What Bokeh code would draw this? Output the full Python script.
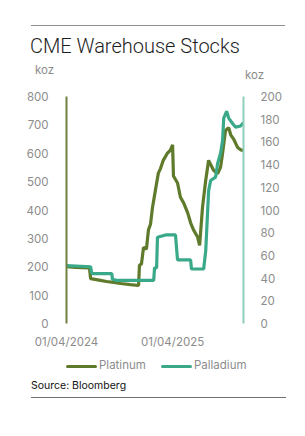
from datetime import datetime
from bokeh.plotting import figure
from bokeh.layouts import column
from bokeh.models import (Range1d, LinearAxis, FixedTicker, DatetimeTickFormatter,
                          ColumnDataSource, Div)
from bokeh.embed import file_html
from bokeh.resources import INLINE

platinum_dates = ["2024-04-01", "2024-05-02", "2024-06-19", "2024-06-23", "2024-07-27", "2024-08-17",
                  "2024-09-10", "2024-10-04", "2024-11-07", "2024-12-05", "2024-12-08", "2024-12-15",
                  "2024-12-22", "2025-01-01", "2025-01-08", "2025-01-15", "2025-01-22", "2025-02-01",
                  "2025-02-11", "2025-02-18", "2025-02-28", "2025-03-14", "2025-03-24", "2025-04-01",
                  "2025-04-04", "2025-04-18", "2025-04-28", "2025-05-09", "2025-05-23", "2025-06-02",
                  "2025-06-12", "2025-06-26", "2025-07-03", "2025-07-13", "2025-07-24", "2025-08-03",
                  "2025-08-10", "2025-08-20", "2025-09-03", "2025-09-13", "2025-09-20", "2025-09-30",
                  "2025-10-11", "2025-10-18", "2025-10-28", "2025-11-11", "2025-11-21", "2025-12-01"]
platinum_koz = [200, 198, 196, 158, 152, 148, 145, 141, 137, 134, 205, 210,
                268, 262, 330, 350, 410, 470, 530, 545, 575, 600, 610, 630,
                520, 495, 445, 425, 390, 355, 330, 305, 275, 410, 505, 575,
                560, 540, 528, 550, 600, 680, 690, 665, 650, 620, 612, 610]

palladium_dates = ["2024-04-01", "2024-06-23", "2024-06-27", "2024-09-04", "2024-09-06", "2024-09-20",
                   "2025-01-26", "2025-01-29", "2025-02-05", "2025-02-08", "2025-03-08", "2025-04-11",
                   "2025-04-18", "2025-06-02", "2025-06-05", "2025-07-17", "2025-07-24", "2025-08-03",
                   "2025-08-10", "2025-08-27", "2025-09-03", "2025-09-13", "2025-09-20", "2025-09-24",
                   "2025-10-04", "2025-10-11", "2025-10-25", "2025-11-04", "2025-11-21", "2025-12-01"]
palladium_koz = [51, 50, 44, 44, 39, 38,
                 38, 49, 49, 76, 78, 78,
                 56, 56, 48, 48, 64, 117,
                 126, 129, 141, 150, 161, 181,
                 187, 181, 176, 173, 174, 177]

left_ticks = [0, 100, 200, 300, 400, 500, 600, 700, 800]
right_ticks = [0, 20, 40, 60, 80, 100, 120, 140, 160, 180, 200]
x_tick_dates = ["2024-04-01", "2025-04-01"]

title_text = "CME Warehouse Stocks"
unit_text = "koz"
series_names = ["Platinum", "Palladium"]
source_text = "Source: Bloomberg"

OLIVE = "#5e7a2a"
TEAL = "#3aa98a"
GREY = "#8c8c8c"
FONT = "Inter"
W = 305
HEAD_H = 84
MAIN_H = 266
FOOT_H = 436 - HEAD_H - MAIN_H


def to_dt(s):
    return datetime.strptime(s, "%Y-%m-%d")


def abs_text(txt, left, top, size, color, family=FONT, weight=400):
    return (f'<div style="position:absolute;left:{left}px;top:{top}px;font-family:{family};'
            f'font-weight:{weight};font-size:{size}px;line-height:1;color:{color};'
            f'white-space:nowrap;">{txt}</div>')


def rule(left, top, width, color, h=1, radius=0):
    return (f'<div style="position:absolute;left:{left}px;top:{top}px;width:{width}px;'
            f'height:{h}px;background:{color};border-radius:{radius}px;"></div>')


# ---------- header ----------
head_html = (f'<div style="position:relative;width:{W}px;height:{HEAD_H}px;">'
             + rule(31, 25, 254, "#8f8f8f")
             + abs_text(title_text, 30, 36, 20, "#1e1e1e", family="Roboto", weight=300)
             + abs_text(unit_text, 35, 65, 11.5, GREY)
             + abs_text(unit_text, 245, 70, 11.5, GREY)
             + '</div>')
head = Div(text=head_html, width=W, height=HEAD_H, margin=(0, 0, 0, 0))

# ---------- main chart ----------
pt_src = ColumnDataSource(dict(x=[to_dt(d) for d in platinum_dates], y=platinum_koz))
pd_src = ColumnDataSource(dict(x=[to_dt(d) for d in palladium_dates], y=palladium_koz))

p = figure(frame_width=177, frame_height=227, x_axis_type="datetime", output_backend="svg",
           toolbar_location=None,
           x_range=Range1d(to_dt("2024-04-01"), to_dt("2025-12-01")),
           y_range=Range1d(0, 800),
           min_border_left=66, min_border_right=62, min_border_top=96 - HEAD_H,
           min_border_bottom=MAIN_H - 227 - (96 - HEAD_H))
p.extra_y_ranges = {"right": Range1d(0, 200)}
p.outline_line_color = None
p.grid.visible = False

p.line("x", "y", source=pt_src, line_color=OLIVE, line_width=3.2)
p.line("x", "y", source=pd_src, line_color=TEAL, line_width=3.2, y_range_name="right")


def style_axis(ax, color):
    ax.axis_line_color = color
    ax.axis_line_width = 2
    ax.major_tick_line_color = None
    ax.minor_tick_line_color = None
    ax.major_label_text_color = GREY
    ax.major_label_text_font = FONT
    ax.major_label_text_font_size = "11.5px"


yl = p.yaxis[0]
yl.ticker = FixedTicker(ticks=left_ticks)
style_axis(yl, "#6f8040")
yl.major_label_standoff = 12

yr = LinearAxis(y_range_name="right", ticker=FixedTicker(ticks=right_ticks))
style_axis(yr, "#8fcfbd")
yr.major_label_standoff = 11
p.add_layout(yr, "right")

xa = p.xaxis[0]
xa.ticker = FixedTicker(ticks=[to_dt(d).timestamp() * 1000 for d in x_tick_dates])
fmt = "%d/%m/%Y"
xa.formatter = DatetimeTickFormatter(days=fmt, months=fmt, years=fmt, hours=fmt, minutes=fmt,
                                     seconds=fmt, milliseconds=fmt, microseconds=fmt)
style_axis(xa, None)
xa.major_label_standoff = 5

# ---------- footer (legend + source) ----------
y0 = HEAD_H + MAIN_H
foot_html = (f'<div style="position:relative;width:{W}px;height:{FOOT_H}px;">'
             + rule(66, 365 - y0 - 1.5, 31, OLIVE, h=3, radius=1.5)
             + abs_text(series_names[0], 99, 359 - y0, 11.5, GREY)
             + rule(161, 365 - y0 - 1.5, 31, TEAL, h=3, radius=1.5)
             + abs_text(series_names[1], 194, 359 - y0, 11.5, GREY)
             + abs_text(source_text, 31, 380 - y0, 10.5, "#111111")
             + rule(31, 396 - y0, 255, "#707070")
             + '</div>')
foot = Div(text=foot_html, width=W, height=FOOT_H, margin=(0, 0, 0, 0))

layout = column(head, p, foot, spacing=0)
open("out.html", "w").write(file_html(layout, INLINE))
